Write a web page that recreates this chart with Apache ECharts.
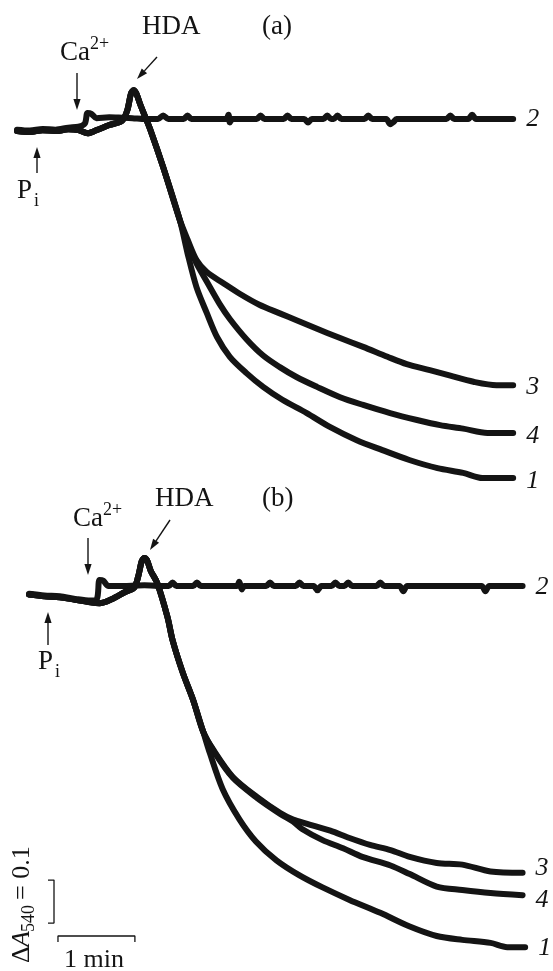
<!DOCTYPE html>
<html>
<head>
<meta charset="utf-8">
<script src="https://cdn.jsdelivr.net/npm/echarts/dist/echarts.min.js"></script>
<style>
html, body { margin: 0; padding: 0; background: #ffffff; }
#chart { width: 553px; height: 971px; }
</style>
</head>
<body>
<div id="chart"></div>
<script>
// time in s, absorbance change relative to the control trace (curve 2)
var preA = [[0,-0.028],[10,-0.030],[20,-0.026],[30,-0.028],[40,-0.024],[48,-0.026],[55,-0.033],[62,-0.026],[72,-0.014],[82,-0.004],[86,0.02],[89,0.06],[91,0.067],[93,0.06],[96,0.035],[100,0.005],[104,-0.025],[114,-0.112],[127,-0.235]];
var ctrlPreA = [[0,-0.025],[10,-0.027],[20,-0.023],[30,-0.025],[40,-0.020],[48,-0.018],[53,-0.010],[55,0.014],[58,0.012],[62,0.002],[72,0.004],[82,0.003],[90,0.002],[100,0]];
var ctrlA = [[110,0],[114,0.008],[118,0],[130,0],[133,0.008],[136,0],[163,0],[165,0.010],[166,-0.008],[168,0],[187,0],[190,0.008],[193,0],[208,0],[211,0.008],[214,0],[224,0],[227,-0.008],[230,0],[239,0],[242,0.008],[245,0],[247,0],[250,0.008],[253,0],[271,0],[274,0.008],[277,0],[288,0],[291,-0.012],[294,-0.006],[296,0],[335,0],[338,0.008],[341,0],[352,0],[355,0.010],[358,0],[387,0]];
var a1 = [[133,-0.312],[140,-0.391],[148,-0.451],[156,-0.507],[166,-0.553],[179,-0.591],[192,-0.623],[207,-0.653],[226,-0.684],[244,-0.716],[265,-0.747],[285,-0.770],[306,-0.793],[328,-0.812],[348,-0.823],[363,-0.835],[387,-0.835]];
var a3 = [[133,-0.280],[140,-0.328],[148,-0.356],[161,-0.382],[174,-0.407],[189,-0.432],[205,-0.452],[218,-0.468],[234,-0.488],[250,-0.507],[270,-0.530],[289,-0.553],[304,-0.570],[322,-0.584],[338,-0.597],[356,-0.611],[374,-0.619],[387,-0.619]];
var a4 = [[133,-0.290],[140,-0.336],[148,-0.378],[158,-0.430],[166,-0.465],[179,-0.512],[192,-0.550],[205,-0.577],[218,-0.600],[234,-0.623],[252,-0.647],[270,-0.665],[291,-0.684],[312,-0.700],[330,-0.712],[348,-0.720],[367,-0.730],[387,-0.730]];

var preB = [[0,-0.020],[12,-0.024],[24,-0.026],[36,-0.032],[48,-0.038],[55,-0.040],[65,-0.030],[75,-0.014],[82,-0.004],[85,0.02],[88,0.058],[90,0.065],[92,0.06],[95,0.035],[100,0.007],[108,-0.072],[112,-0.126],[120,-0.202],[128,-0.265],[136,-0.340]];
var ctrlPreB = [[0,-0.018],[12,-0.022],[24,-0.024],[36,-0.030],[48,-0.034],[53,-0.030],[55,0.014],[58,0.012],[62,0],[75,0],[90,0.002],[100,0]];
var ctrlB = [[109,0],[112,0.008],[115,0],[128,0],[131,0.008],[134,0],[162,0],[164,0.010],[166,-0.008],[168,0],[185,0],[188,0.008],[191,0],[208,0],[211,0.008],[214,0],[222,0],[225,-0.010],[228,0],[236,0],[239,0.008],[242,0],[246,0],[249,0.008],[252,0],[271,0],[274,0.008],[277,0],[289,0],[292,-0.012],[295,0],[353,0],[356,-0.012],[359,0],[385,0]];
var b1 = [[141,-0.388],[151,-0.472],[164,-0.542],[177,-0.594],[193,-0.638],[211,-0.673],[229,-0.701],[250,-0.730],[274,-0.760],[297,-0.792],[318,-0.814],[338,-0.823],[360,-0.830],[373,-0.840],[387,-0.840]];
var b3 = [[144,-0.382],[159,-0.444],[178,-0.491],[196,-0.528],[206,-0.543],[217,-0.553],[235,-0.569],[250,-0.586],[266,-0.602],[282,-0.614],[297,-0.630],[318,-0.644],[338,-0.648],[360,-0.664],[385,-0.667]];
var b4 = [[144,-0.384],[159,-0.446],[178,-0.493],[196,-0.530],[206,-0.548],[213,-0.565],[229,-0.591],[245,-0.610],[260,-0.630],[282,-0.650],[297,-0.670],[318,-0.699],[338,-0.707],[360,-0.714],[385,-0.719]];

var scaleAbs = 0.1;   // vertical scale bar, ΔA540
var scaleSec = 60;    // horizontal scale bar, 1 min

var serif = '"Liberation Serif", "DejaVu Serif", serif';
var ink = '#141414';

function trace(name, grid, data, dy) {
    return {
        name: name,
        type: 'line',
        xAxisIndex: grid,
        yAxisIndex: grid,
        data: data,
        symbol: 'none',
        smooth: 0.3,
        clip: false,
        lineStyle: { color: ink, width: 6, cap: 'round', join: 'round' },
        endLabel: {
            show: true,
            formatter: '{a}',
            distance: 13,
            offset: [0, dy],
            fontFamily: serif,
            fontStyle: 'italic',
            fontSize: 26,
            color: ink
        },
        z: 3
    };
}

function arrow(x1, y1, x2, y2) {
    var ang = Math.atan2(y2 - y1, x2 - x1);
    var len = 11, half = 3.6;
    var bx = x2 - len * Math.cos(ang), by = y2 - len * Math.sin(ang);
    var px = -Math.sin(ang) * half, py = Math.cos(ang) * half;
    return [
        { type: 'line', shape: { x1: x1, y1: y1, x2: bx, y2: by }, style: { stroke: ink, lineWidth: 1.4 } },
        { type: 'polygon', shape: { points: [[x2, y2], [bx + px, by + py], [bx - px, by - py]] }, style: { fill: ink } }
    ];
}

function txt(s, x, y, size, extra) {
    var o = { type: 'text', x: x, y: y, style: { text: s, font: size + 'px ' + serif, fill: ink, textAlign: 'left', textVerticalAlign: 'middle' } };
    if (extra) { for (var k in extra) o.style[k] = extra[k]; }
    return o;
}

var gfx = [];
gfx = gfx.concat(arrow(77, 73, 77, 110), arrow(157, 57, 137, 79), arrow(37, 173, 37, 147));
gfx = gfx.concat(arrow(88, 538, 88, 575), arrow(170, 520, 150, 550), arrow(48, 645, 48, 612));
gfx.push(txt('HDA', 142, 27, 27), txt('(a)', 262, 27, 27), txt('Ca', 60, 53, 27), txt('2+', 90, 44, 18), txt('P', 17, 191, 27), txt('i', 34, 201, 18));
gfx.push(txt('HDA', 155, 499, 27), txt('(b)', 262, 499, 27), txt('Ca', 73, 519, 27), txt('2+', 103, 510, 18), txt('P', 38, 662, 27), txt('i', 55, 672, 18));
gfx.push(txt('1 min', 64, 960, 26));
gfx.push({
    type: 'group', x: 22, y: 963, rotation: Math.PI / 2,
    children: [
        txt('Δ', 0, 0, 26),
        txt('A', 16, 0, 26, { font: 'italic 26px ' + serif }),
        txt('540', 31, 7, 18),
        txt('= 0.1', 63, 0, 26)
    ]
});

// scale bars drawn in the data units of panel (b)
var vBarT = 19.5, vBarTop = -0.684, tick = 4.7;
var hBarT = 22.6, hBarA = -0.814;
var vBar = [[vBarT - tick, vBarTop], [vBarT, vBarTop], [vBarT, vBarTop - scaleAbs], [vBarT - tick, vBarTop - scaleAbs]];
var hBar = [[hBarT, hBarA - 0.014], [hBarT, hBarA], [hBarT + scaleSec, hBarA], [hBarT + scaleSec, hBarA - 0.014]];

function bar(data) {
    return { type: 'line', xAxisIndex: 1, yAxisIndex: 1, data: data, symbol: 'none', clip: false,
             lineStyle: { color: ink, width: 1.3 }, z: 2 };
}

var myChart = echarts.init(document.getElementById('chart'));
myChart.setOption({
    animation: false,
    backgroundColor: '#ffffff',
    grid: [
        { left: 17, top: 76, width: 500, height: 408.5 },
        { left: 29, top: 543, width: 500, height: 408.5 }
    ],
    xAxis: [
        { type: 'value', gridIndex: 0, min: 0, max: 390, show: false },
        { type: 'value', gridIndex: 1, min: 0, max: 390, show: false }
    ],
    yAxis: [
        { type: 'value', gridIndex: 0, min: -0.85, max: 0.1, show: false },
        { type: 'value', gridIndex: 1, min: -0.85, max: 0.1, show: false }
    ],
    graphic: gfx,
    series: [
        trace('2', 0, ctrlPreA.concat(ctrlA), 0),
        trace('3', 0, preA.concat(a3), 2),
        trace('4', 0, preA.concat(a4), 3),
        trace('1', 0, preA.concat(a1), 3),
        trace('2', 1, ctrlPreB.concat(ctrlB), 1),
        trace('3', 1, preB.concat(b3), -5),
        trace('4', 1, preB.concat(b4), 5),
        trace('1', 1, preB.concat(b1), 1),
        bar(vBar),
        bar(hBar)
    ]
});
</script>
</body>
</html>
